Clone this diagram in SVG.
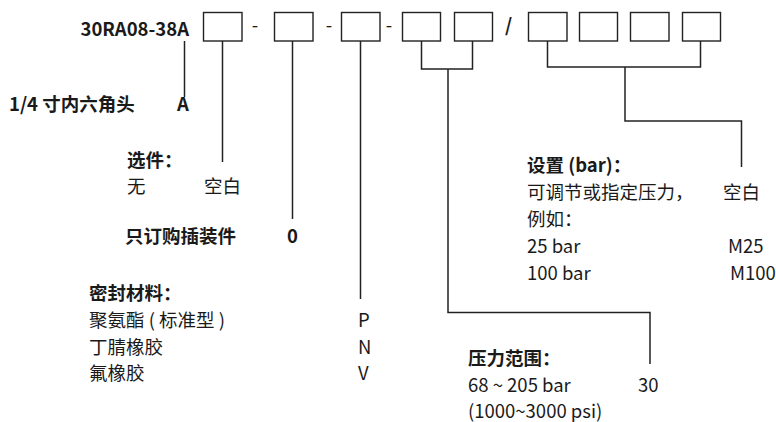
<svg xmlns="http://www.w3.org/2000/svg" width="776" height="422" viewBox="0 0 776 422">
<style>
text{font-family:"Noto Sans CJK SC","Noto Sans",sans-serif;font-size:18.5px;fill:#1a1a1a}
.b{font-weight:bold}
.box{fill:#fff;stroke:#222;stroke-width:1.4}
.ln{fill:none;stroke:#222;stroke-width:1.5}
</style>
<rect width="776" height="422" fill="#fff"/>
<g id="code">
<text class="b" x="189" y="36" text-anchor="end">30RA08-38A</text>
<rect class="box" x="203.5" y="12.5" width="38.5" height="28.5"/>
<text x="255" y="32" text-anchor="middle">-</text>
<rect class="box" x="274.5" y="12.5" width="38.5" height="28.5"/>
<text x="329" y="32" text-anchor="middle">-</text>
<rect class="box" x="341.5" y="12.5" width="38.5" height="28.5"/>
<text x="389" y="32" text-anchor="middle">-</text>
<rect class="box" x="402.5" y="12.5" width="38" height="28.5"/>
<rect class="box" x="454.5" y="12.5" width="38" height="28.5"/>
<text class="b" x="508.5" y="32" text-anchor="middle">/</text>
<rect class="box" x="528.5" y="12.5" width="38.5" height="28.5"/>
<rect class="box" x="579.5" y="12.5" width="38" height="28.5"/>
<rect class="box" x="630.5" y="12.5" width="38.5" height="28.5"/>
<rect class="box" x="682.5" y="12.5" width="38" height="28.5"/>
</g>
<g id="connectors">
<path class="ln" d="M184.5 41V97"/>
<path class="ln" d="M222.5 41V162"/>
<path class="ln" d="M292.5 41V219"/>
<path class="ln" d="M360.5 41V299"/>
<path class="ln" d="M421.5 41V69H472.5V41M448 69V312.5H650V364"/>
<path class="ln" d="M547.5 41V67H700.5V41M625 67V121H741.5V167"/>
</g>
<g id="hex">
<text class="b" x="9" y="110.5">1/4 寸内六角头</text>
<text class="b" x="177" y="110.5">A</text>
</g>
<g id="option">
<text class="b" x="127" y="167">选件：</text>
<text x="127" y="193">无</text>
<text x="204" y="193">空白</text>
</g>
<g id="cartridge">
<text class="b" x="125" y="243">只订购插装件</text>
<text class="b" x="287" y="243">0</text>
</g>
<g id="seal">
<text class="b" x="89" y="300">密封材料：</text>
<text x="89" y="327">聚氨酯 ( 标准型 )</text>
<text x="358" y="327">P</text>
<text x="89" y="354">丁腈橡胶</text>
<text x="358" y="354">N</text>
<text x="89" y="380">氟橡胶</text>
<text x="358" y="380">V</text>
</g>
<g id="setting">
<text class="b" x="527" y="172">设置 (bar)：</text>
<text x="527" y="199">可调节或指定压力，</text>
<text x="723" y="199">空白</text>
<text x="527" y="226">例如：</text>
<text x="527" y="253">25 bar</text>
<text x="728" y="253">M25</text>
<text x="527" y="280">100 bar</text>
<text x="730" y="280">M100</text>
</g>
<g id="range">
<text class="b" x="468" y="365">压力范围：</text>
<text x="468" y="392">68 ~ 205 bar</text>
<text x="638" y="392">30</text>
<text x="468" y="418">(1000~3000 psi)</text>
</g>
</svg>
